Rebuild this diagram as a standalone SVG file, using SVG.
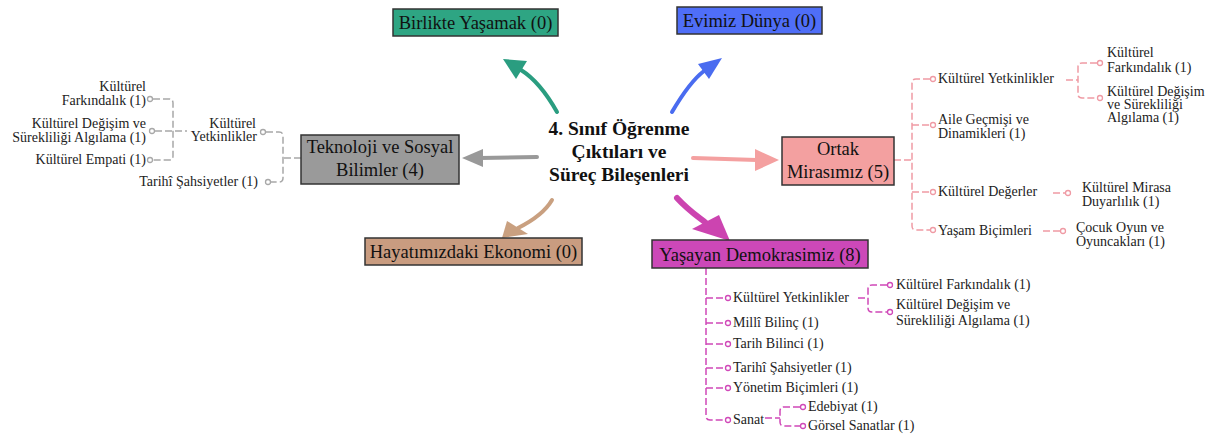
<svg xmlns="http://www.w3.org/2000/svg" width="1220" height="436" viewBox="0 0 1220 436">
<style>
.box{stroke:#333;stroke-width:1.5}
.bt{font-family:"Liberation Serif","Times New Roman",serif;font-size:18.5px;fill:#111;text-anchor:middle}
.ct{font-family:"Liberation Serif","Times New Roman",serif;font-size:19.5px;font-weight:bold;fill:#111;text-anchor:middle}
.st{font-family:"Liberation Serif","Times New Roman",serif;font-size:14px;fill:#222}
.end{text-anchor:end}
.dash{fill:none;stroke-width:1.5;stroke-dasharray:7 3}
.g{stroke:#a8a8a8}
.p{stroke:#ef9aa4}
.m{stroke:#d048b8}
.dot{fill:#fff;stroke-width:1.3}
.arr{fill:none;stroke-linecap:round}
</style>
<g id="connectors">
<!-- main arrows -->
<path class="arr" d="M557,112 C548,96 537,80 521,70" stroke="#2a9d80" stroke-width="4"/>
<polygon points="503,59 527,61 516,79" fill="#2a9d80"/>
<path class="arr" d="M672,112 C682,95 692,80 704,71" stroke="#4a6cf0" stroke-width="4"/>
<polygon points="722,58 698,64 709,79" fill="#4a6cf0"/>
<path class="arr" d="M537,157 L480,158" stroke="#999" stroke-width="4"/>
<polygon points="462,158 483,149 483,167" fill="#999"/>
<path class="arr" d="M693,158 L757,160" stroke="#f4a0a0" stroke-width="4"/>
<polygon points="779,160 755,149 755,171" fill="#f4a0a0"/>
<path class="arr" d="M552,200 C545,212 530,222 518,228" stroke="#c9a080" stroke-width="4"/>
<polygon points="502,238 507,221 528,234" fill="#c9a080"/>
<path class="arr" d="M677,198 C688,210 697,216 706,223" stroke="#cc44b0" stroke-width="6"/>
<polygon points="730,241 692,229 719,215" fill="#cc44b0"/>

<!-- left subtree (gray) -->
<path class="dash g" d="M301,158 H283"/>
<path class="dash g" d="M266,132 H279 Q283,132 283,136 V178 Q283,182 279,182 H271"/>
<path class="dash g" d="M155,131 H187"/>
<path class="dash g" d="M153,99 H169 Q173,99 173,103 V156 Q173,160 169,160 H153"/>
<circle class="dot g" cx="263" cy="132" r="2.5"/>
<circle class="dot g" cx="268" cy="182" r="2.5"/>
<circle class="dot g" cx="150" cy="99" r="2.5"/>
<circle class="dot g" cx="152" cy="131" r="2.5"/>
<circle class="dot g" cx="150" cy="160" r="2.5"/>

<!-- right subtree (pink) -->
<path class="dash p" d="M894,160 H912"/>
<path class="dash p" d="M930,79 H916 Q912,79 912,83 V226 Q912,230 916,230 H930"/>
<path class="dash p" d="M912,125 H930 M912,192 H930"/>
<path class="dash p" d="M1066,80 H1078"/>
<path class="dash p" d="M1097,63 H1082 Q1078,63 1078,67 V94 Q1078,98 1082,98 H1097"/>
<path class="dash p" d="M1053,193 H1065"/>
<path class="dash p" d="M1043,231 H1060"/>
<circle class="dot p" cx="933" cy="79" r="2.5"/>
<circle class="dot p" cx="933" cy="125" r="2.5"/>
<circle class="dot p" cx="933" cy="192" r="2.5"/>
<circle class="dot p" cx="933" cy="230" r="2.5"/>
<circle class="dot p" cx="1100" cy="63" r="2.5"/>
<circle class="dot p" cx="1100" cy="98" r="2.5"/>
<circle class="dot p" cx="1068" cy="193" r="2.5"/>
<circle class="dot p" cx="1063" cy="231" r="2.5"/>

<!-- bottom subtree (magenta) -->
<path class="dash m" d="M706,268 V416 Q706,420 710,420 H725"/>
<path class="dash m" d="M706,298 H725 M706,323 H725 M706,344 H725 M706,368 H725 M706,388 H725"/>
<path class="dash m" d="M858,298 H868"/>
<path class="dash m" d="M887,285 H872 Q868,285 868,289 V308 Q868,312 872,312 H887"/>
<path class="dash m" d="M765,418 H780"/>
<path class="dash m" d="M800,407 H784 Q780,407 780,411 V422 Q780,426 784,426 H800"/>
<circle class="dot m" cx="728" cy="298" r="2.5"/>
<circle class="dot m" cx="728" cy="323" r="2.5"/>
<circle class="dot m" cx="728" cy="344" r="2.5"/>
<circle class="dot m" cx="728" cy="368" r="2.5"/>
<circle class="dot m" cx="728" cy="388" r="2.5"/>
<circle class="dot m" cx="728" cy="420" r="2.5"/>
<circle class="dot m" cx="890" cy="285" r="2.5"/>
<circle class="dot m" cx="890" cy="312" r="2.5"/>
<circle class="dot m" cx="803" cy="407" r="2.5"/>
<circle class="dot m" cx="803" cy="426" r="2.5"/>
</g>

<g id="center"><text class="ct" x="619" y="135">4. Sınıf Öğrenme</text><text class="ct" x="619" y="158">Çıktıları ve</text><text class="ct" x="619" y="181">Süreç Bileşenleri</text></g>

<g id="birlikte"><rect class="box" x="393" y="9" width="165" height="27" fill="#2ea583"/><text class="bt" x="475.5" y="29">Birlikte Yaşamak (0)</text></g>
<g id="evimiz"><rect class="box" x="677" y="7" width="145" height="27" fill="#4f6ef7"/><text class="bt" x="749.5" y="27">Evimiz Dünya (0)</text></g>
<g id="teknoloji"><rect class="box" x="301" y="135" width="158" height="49" fill="#9a9a9a"/><text class="bt" x="380" y="153">Teknoloji ve Sosyal</text><text class="bt" x="380" y="176">Bilimler (4)</text></g>
<g id="ortak"><rect class="box" x="782" y="137" width="112" height="48" fill="#f3a0a0"/><text class="bt" x="838" y="155">Ortak</text><text class="bt" x="838" y="178">Mirasımız (5)</text></g>
<g id="hayat"><rect class="box" x="365" y="238" width="217" height="27" fill="#c99c80"/><text class="bt" x="473.5" y="258">Hayatımızdaki Ekonomi (0)</text></g>
<g id="yasayan"><rect class="box" x="652" y="240" width="216" height="28" fill="#cc48b8"/><text class="bt" x="760" y="261">Yaşayan Demokrasimiz (8)</text></g>

<!-- left subtree nodes -->
<g id="l-yetkinlik"><text class="st end" x="256" y="128">Kültürel</text><text class="st end" x="257" y="141">Yetkinlikler</text></g>
<g id="l-tarihi"><text class="st end" x="258" y="186">Tarihî Şahsiyetler (1)</text></g>
<g id="l-fark"><text class="st end" x="146" y="91">Kültürel</text><text class="st end" x="146" y="105">Farkındalık (1)</text></g>
<g id="l-degisim"><text class="st end" x="146" y="128">Kültürel Değişim ve</text><text class="st end" x="146" y="142">Sürekliliği Algılama (1)</text></g>
<g id="l-empati"><text class="st end" x="146" y="164">Kültürel Empati (1)</text></g>

<!-- right subtree nodes -->
<g id="r-yetkinlik"><text class="st" x="938" y="83">Kültürel Yetkinlikler</text></g>
<g id="r-fark"><text class="st" x="1107" y="57">Kültürel</text><text class="st" x="1107" y="72">Farkındalık (1)</text></g>
<g id="r-degisim"><text class="st" x="1107" y="96">Kültürel Değişim</text><text class="st" x="1107" y="109">ve Sürekliliği</text><text class="st" x="1107" y="122">Algılama (1)</text></g>
<g id="r-aile"><text class="st" x="938" y="124">Aile Geçmişi ve</text><text class="st" x="938" y="138">Dinamikleri (1)</text></g>
<g id="r-degerler"><text class="st" x="938" y="196">Kültürel Değerler</text></g>
<g id="r-miras"><text class="st" x="1082" y="192">Kültürel Mirasa</text><text class="st" x="1082" y="206">Duyarlılık (1)</text></g>
<g id="r-yasam"><text class="st" x="938" y="235">Yaşam Biçimleri</text></g>
<g id="r-cocuk"><text class="st" x="1076" y="232">Çocuk Oyun ve</text><text class="st" x="1076" y="246">Oyuncakları (1)</text></g>

<!-- bottom subtree nodes -->
<g id="b-yetkinlik"><text class="st" x="733" y="302">Kültürel Yetkinlikler</text></g>
<g id="b-fark"><text class="st" x="896" y="289">Kültürel Farkındalık (1)</text></g>
<g id="b-degisim"><text class="st" x="896" y="309">Kültürel Değişim ve</text><text class="st" x="896" y="325">Sürekliliği Algılama (1)</text></g>
<g id="b-milli"><text class="st" x="733" y="327">Millî Bilinç (1)</text></g>
<g id="b-tarih"><text class="st" x="733" y="348">Tarih Bilinci (1)</text></g>
<g id="b-sahsiyet"><text class="st" x="733" y="372">Tarihî Şahsiyetler (1)</text></g>
<g id="b-yonetim"><text class="st" x="733" y="392">Yönetim Biçimleri (1)</text></g>
<g id="b-sanat"><text class="st" x="733" y="424">Sanat</text></g>
<g id="b-edebiyat"><text class="st" x="808" y="411">Edebiyat (1)</text></g>
<g id="b-gorsel"><text class="st" x="808" y="430">Görsel Sanatlar (1)</text></g>
</svg>
